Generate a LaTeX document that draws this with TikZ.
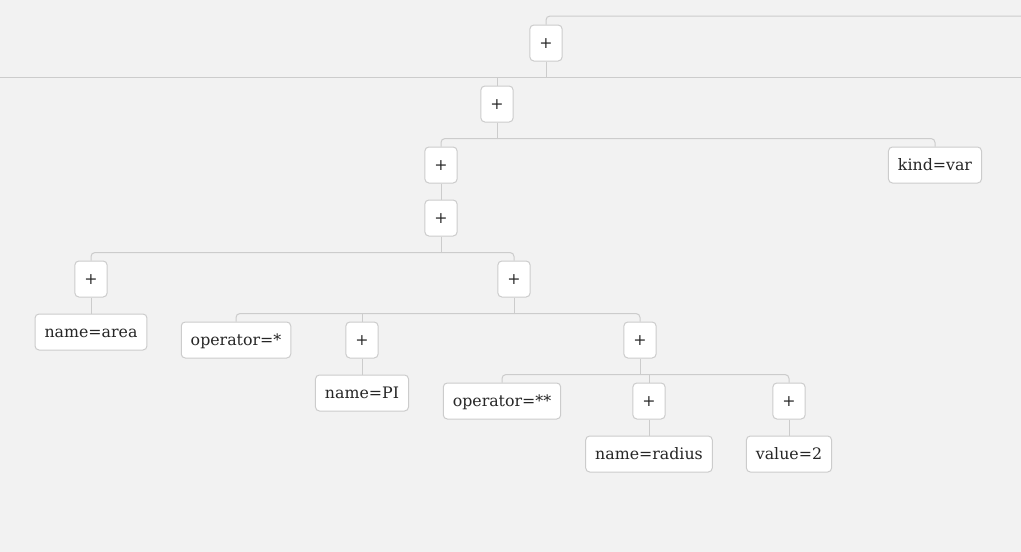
\documentclass[tikz,border=0pt]{standalone}
\usepackage{fontspec}
\setmainfont{DejaVu Serif}
\usetikzlibrary{positioning}
\definecolor{pagebg}{HTML}{F2F2F2}
\definecolor{wire}{HTML}{CCCCCC}
\definecolor{ink}{HTML}{262626}

\begin{document}
\begin{tikzpicture}[x=1pt,y=-1pt,
    term/.style={draw=wire,fill=white,rounded corners=4pt,line width=1pt,
      minimum width=32pt,minimum height=36pt,inner xsep=9.5pt,
      text height=14pt,text depth=2.5pt,text=ink,font=\fontsize{15.8}{18}\selectfont},
    link/.style={draw=wire,line width=1pt,rounded corners=4pt}]
  \fill[pagebg] (0,0) rectangle (1021,552);
  \useasboundingbox (0,0) rectangle (1021,552);
  % loose ends of the tree above
  \coordinate (up)    at (1021,16);
  \coordinate (westend) at (0,77);
  \coordinate (eastend) at (1021,77);
  \node [term] (top)    at (546,43)  {+};
  \node [term] (body)   at (497,104) {+};
  \node [term] (decl)   at (441,165) {+};
  \node [term] (kind)   at (935,165) {kind=var};
  \node [term] (pair)   at (441,218) {+};
  \node [term] (target) at (91,279)  {+};
  \node [term] (value)  at (514,279) {+};
  \node [term] (area)   at (91,332)  {name=area};
  \node [term] (opmul)  at (236,340) {operator=*};
  \node [term] (pifac)  at (362,340) {+};
  \node [term] (power)  at (640,340) {+};
  \node [term] (pi)     at (362,393) {name=PI};
  \node [term] (oppow)  at (502,401) {operator=**};
  \node [term] (base)   at (649,401) {+};
  \node [term] (expo)   at (789,401) {+};
  \node [term] (radius) at (649,454) {name=radius};
  \node [term] (two)    at (789,454) {value=2};
  % connectors
  \draw[link] (top.north) |- (up);
  \draw[link] (westend) -- (eastend);
  \draw[link] (top.south) -- (top |- westend);
  \draw[link] (westend -| body) -- (body.north);
  \draw[link] (body.south) -- ++(0,16) coordinate (bbus);
  \draw[link] (bbus) -| (decl.north);
  \draw[link] (bbus) -| (kind.north);
  \draw[link] (decl.south) -- (pair.north);
  \draw[link] (pair.south) -- ++(0,16) coordinate (pbus);
  \draw[link] (pbus) -| (target.north);
  \draw[link] (pbus) -| (value.north);
  \draw[link] (target.south) -- (area.north);
  \draw[link] (value.south) -- ++(0,16) coordinate (vbus);
  \draw[link] (vbus) -| (opmul.north);
  \draw[link] (vbus -| pifac) -- (pifac.north);
  \draw[link] (vbus) -| (power.north);
  \draw[link] (pifac.south) -- (pi.north);
  \draw[link] (power.south) -- ++(0,16) coordinate (wbus);
  \draw[link] (wbus) -| (oppow.north);
  \draw[link] (wbus -| base) -- (base.north);
  \draw[link] (wbus) -| (expo.north);
  \draw[link] (base.south) -- (radius.north);
  \draw[link] (expo.south) -- (two.north);
\end{tikzpicture}
\end{document}
